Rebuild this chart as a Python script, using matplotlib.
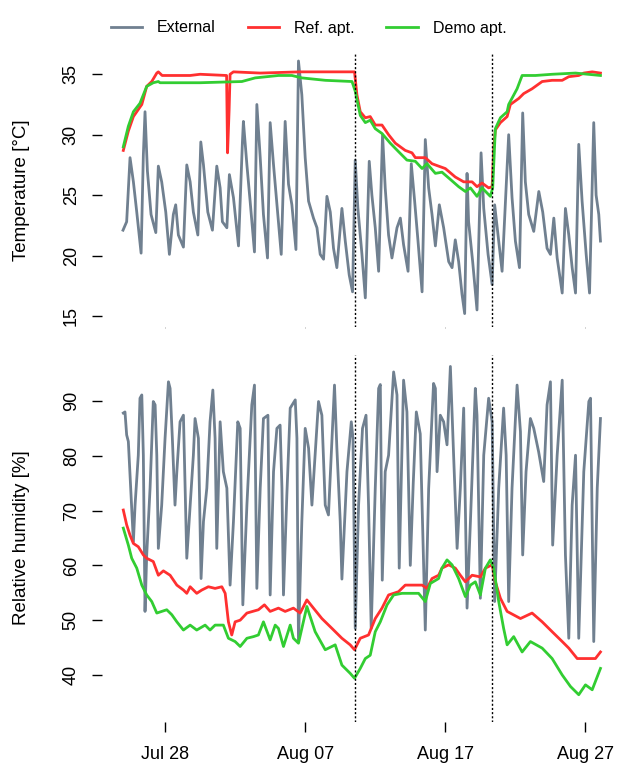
import numpy as np
import matplotlib
matplotlib.use("Agg")
import matplotlib.pyplot as plt
import matplotlib.dates as mdates

plt.rcParams["font.family"] = ["Liberation Sans", "DejaVu Sans"]

# time axis: days since 2013-07-25 00:00
START = np.datetime64("2013-07-25T00:00")

ext_temp_days = [0.0, 0.26, 0.5, 0.74, 0.98, 1.29, 1.45, 1.57, 1.74, 2.0, 2.34, 2.52, 2.76, 3.05, 3.31,
                 3.59, 3.76, 3.95, 4.31, 4.55, 4.79, 5.02, 5.34, 5.55, 5.74, 6.05, 6.38, 6.69, 6.93,
                 7.09, 7.41, 7.59, 7.88, 8.24, 8.52, 8.59, 8.84, 9.07, 9.38, 9.55, 9.79, 10.02, 10.31,
                 10.5, 10.74, 11.29, 11.57, 11.81, 12.05, 12.34, 12.52, 12.76, 13.0, 13.24, 13.59,
                 13.84, 14.07, 14.31, 14.55, 14.79, 15.02, 15.26, 15.62, 15.86, 16.14, 16.38, 16.57,
                 16.76, 17.05, 17.29, 17.57, 17.76, 18.0, 18.24, 18.52, 18.71, 18.95, 19.19, 19.55,
                 19.79, 20.02, 20.34, 20.57, 20.81, 21.05, 21.34, 21.57, 21.81, 22.05, 22.29, 22.57,
                 22.88, 23.24, 23.48, 23.71, 23.95, 24.19, 24.38, 24.55, 24.66, 24.95, 25.26, 25.55,
                 25.74, 26.05, 26.34, 26.52, 26.81, 27.05, 27.52, 27.76, 28.0, 28.29, 28.52, 28.71,
                 28.95, 29.31, 29.67, 29.95, 30.26, 30.5, 30.74, 30.98, 31.34, 31.57, 31.81, 32.05,
                 32.29, 32.52, 32.76, 33.05, 33.29, 33.59, 33.76, 33.95, 34.07]
ext_temp = [22.1, 22.8, 28.1, 26.1, 23.6, 20.2, 28.3, 31.9, 27.0, 23.4, 21.9, 27.4, 26.1, 23.6, 20.1,
            23.4, 24.2, 21.7, 20.7, 27.5, 26.1, 23.6, 21.7, 29.4, 27.5, 23.6, 22.1, 27.4, 25.6,
            22.8, 22.3, 26.7, 24.8, 20.8, 29.4, 31.1, 27.5, 24.5, 20.3, 32.5, 28.1, 23.4, 19.8,
            31.0, 27.5, 20.1, 31.1, 25.9, 24.2, 20.5, 36.1, 33.3, 28.1, 24.5, 23.1,
            22.3, 20.1, 19.7, 24.9, 23.6, 20.6, 19.0, 23.9, 21.2, 18.4, 17.0, 27.9,
            23.9, 20.1, 16.5, 27.8, 25.0, 22.3, 18.7, 30.0, 25.6, 21.7, 19.8, 22.3,
            23.1, 20.9, 18.7, 27.6, 24.5, 21.2, 17.0, 29.6, 25.6, 23.4, 20.8, 24.2,
            22.3, 19.5, 19.0, 21.3, 19.5, 16.8, 15.2, 26.8, 22.8, 19.5, 15.5, 28.5,
            23.9, 20.1, 17.6, 24.2, 21.2, 18.7, 30.0, 24.8, 21.2, 19.0, 31.8, 26.1,
            23.4, 22.0, 25.3, 23.6, 20.6, 20.1, 23.1, 19.8, 16.9, 23.9, 21.7, 19.0,
            16.9, 29.2, 24.5, 20.1, 16.9, 31.0, 25.0, 23.4, 21.2]

ref_temp_days = [0.02, 0.38, 0.74, 1.34, 1.69, 2.05, 2.41, 2.52, 2.79, 4.79, 5.5, 7.39, 7.46, 7.57,
                 7.64, 7.88, 9.79, 12.64, 16.52, 16.69, 16.93, 17.29, 17.64, 18.0, 18.48, 18.95,
                 19.43, 20.14, 20.62, 20.86, 21.57, 22.05, 22.52, 23.0, 23.71, 24.31, 24.91, 25.26,
                 25.62, 26.09, 26.34, 26.45, 26.57, 26.93, 27.41, 27.64, 28.24, 28.59, 29.19, 29.91,
                 30.62, 31.34, 31.81, 32.52, 32.88, 33.48, 34.07]
ref_temp = [28.7, 30.3, 31.5, 32.5, 34.0, 34.4, 35.1, 35.2, 34.9, 34.9, 35.0, 34.9, 28.5, 32.0,
            35.0, 35.2, 35.1, 35.2, 35.2, 33.3, 31.9, 31.4, 31.5, 30.8, 30.8, 30.0,
            29.3, 28.7, 28.5, 28.1, 28.1, 27.6, 27.4, 27.2, 26.5, 26.1, 26.1, 25.7,
            26.0, 25.6, 25.7, 28.9, 30.4, 31.0, 31.5, 32.5, 33.0, 33.4, 33.8, 34.4,
            34.5, 34.5, 34.8, 34.9, 35.1, 35.2, 35.1]

demo_temp_days = [0.02, 0.38, 0.74, 1.21, 1.69, 2.16, 2.52, 2.64, 5.5, 8.48, 9.43, 11.09, 12.05,
                  12.76, 14.43, 16.34, 16.57, 16.93, 17.29, 17.64, 18.0, 18.48, 19.07, 19.66,
                  20.26, 20.86, 21.34, 21.69, 22.29, 22.76, 23.36, 23.95, 24.43, 24.79, 25.26,
                  25.62, 26.21, 26.38, 26.57, 26.93, 27.41, 27.52, 28.12, 28.48, 29.43, 30.62,
                  32.29, 34.07]
demo_temp = [29.0, 30.7, 31.9, 32.6, 34.0, 34.3, 34.4, 34.3, 34.3, 34.4, 34.7, 34.9, 34.9,
             34.7, 34.5, 34.4, 33.6, 31.6, 31.0, 31.2, 30.5, 30.1, 29.3, 28.6,
             27.9, 27.8, 27.2, 27.6, 26.8, 26.9, 26.3, 25.7, 25.3, 25.6, 24.9,
             25.6, 24.9, 25.6, 30.5, 31.4, 31.9, 32.5, 33.8, 34.9, 34.9, 35.0,
             35.1, 34.9]

ext_hum_days = [0.02, 0.14, 0.26, 0.38, 0.57, 0.74, 0.86, 1.09, 1.21, 1.34, 1.45, 1.57, 1.69, 1.93,
                2.16, 2.29, 2.41, 2.52, 2.76, 3.0, 3.24, 3.36, 3.52, 3.71, 3.84, 4.07, 4.31, 4.43,
                4.55, 4.79, 5.02, 5.14, 5.38, 5.57, 5.74, 5.98, 6.21, 6.41, 6.57, 6.69, 6.93, 7.16,
                7.41, 7.64, 7.88, 8.19, 8.36, 8.55, 8.84, 9.19, 9.38, 9.55, 9.79, 10.02, 10.34,
                10.5, 10.74, 10.98, 11.21, 11.34, 11.45, 11.69, 11.93, 12.29, 12.41, 12.52, 12.76,
                13.0, 13.24, 13.48, 13.71, 13.95, 14.19, 14.43, 14.66, 14.91, 15.09, 15.26, 15.5,
                15.62, 15.98, 16.29, 16.41, 16.57, 16.81, 17.09, 17.34, 17.52, 17.71, 18.0, 18.24,
                18.36, 18.5, 18.71, 18.95, 19.31, 19.55, 19.71, 20.02, 20.26, 20.5, 20.71, 20.93,
                21.21, 21.57, 21.81, 22.16, 22.29, 22.41, 22.64, 22.88, 23.12, 23.36, 23.59, 23.84,
                24.07, 24.31, 24.55, 24.79, 25.14, 25.26, 25.5, 25.74, 26.09, 26.34, 26.52, 26.81,
                27.16, 27.34, 27.52, 27.76, 28.12, 28.36, 28.52, 28.76, 29.07, 29.31, 29.66, 30.02,
                30.26, 30.5, 30.66, 30.98, 31.34, 31.57, 31.81, 32.05, 32.29, 32.52, 32.88, 33.24,
                33.36, 33.59, 33.84, 34.07]
ext_hum = [87.8, 88.0, 83.8, 82.6, 72.8, 64.3, 71.0, 80.1, 90.5, 91.1, 80.1, 51.6, 61.9, 74.1,
           89.9, 89.3, 80.1, 63.1, 71.0, 83.2, 93.5, 92.3, 83.2, 71.0, 77.1, 86.2, 87.4, 74.1,
           61.3, 71.0, 80.1, 86.8, 83.2, 57.6, 68.0, 74.1, 86.2, 92.0, 83.2, 63.1, 86.2, 77.1,
           74.1, 56.4, 68.0, 86.2, 85.0, 52.8, 71.0, 89.3, 92.9, 55.8, 74.1, 86.8, 87.4,
           54.6, 77.1, 85.0, 85.6, 74.1, 54.6, 72.8, 88.7, 90.2, 83.2, 46.1, 68.0,
           85.0, 81.4, 71.0, 80.1, 89.9, 87.4, 71.0, 69.2, 83.2, 92.9, 81.4, 68.0,
           57.5, 77.1, 86.2, 83.2, 48.5, 71.0, 85.0, 87.4, 71.0, 48.5, 74.1, 92.3,
           93.0, 57.3, 77.1, 80.1, 95.3, 91.1, 59.5, 93.8, 88.0, 60.0, 75.0, 88.0,
           84.0, 48.2, 74.0, 93.2, 92.3, 77.1, 87.4, 86.2, 82.0, 96.3, 80.1, 63.1,
           74.1, 88.7, 52.2, 68.0, 92.3, 87.4, 54.0, 80.1, 90.5, 86.2, 53.4, 74.1,
           88.7, 80.1, 53.4, 74.1, 92.9, 84.4, 61.9, 77.1, 86.8, 85.0, 80.7, 75.3,
           89.3, 93.5, 63.7, 80.1, 93.8, 61.9, 46.7, 71.0, 80.1, 46.7, 77.1, 89.9,
           90.5, 46.1, 74.1, 86.8]

ref_hum_days = [0.02, 0.26, 0.5, 0.74, 1.09, 1.45, 1.69, 2.16, 2.52, 2.88, 3.36, 3.84, 4.31, 4.55,
                4.79, 5.26, 5.62, 6.09, 6.57, 7.05, 7.29, 7.52, 7.76, 8.0, 8.36, 8.84, 9.66, 10.09,
                10.5, 11.09, 11.57, 12.16, 12.64, 13.12, 13.59, 14.19, 14.91, 15.62, 16.21, 16.52,
                16.93, 17.52, 18.0, 18.48, 18.95, 19.66, 20.14, 21.34, 21.69, 22.05, 22.52, 22.76,
                23.24, 23.71, 24.07, 24.43, 24.91, 25.5, 25.86, 26.34, 26.57, 26.93, 27.41, 28.36,
                29.19, 29.91, 30.62, 31.34, 31.81, 32.41, 33.71, 34.07]
ref_hum = [70.1, 67.4, 65.5, 64.0, 63.4, 61.9, 61.3, 60.7, 58.2, 59.0, 58.2, 56.4, 55.5, 54.9,
           56.1, 54.9, 55.5, 56.1, 55.8, 56.1, 54.9, 49.7, 47.3, 49.7, 50.0, 51.3, 51.9, 52.8,
           51.6, 52.2, 51.6, 52.2, 51.3, 53.7, 52.2, 50.3, 48.5, 46.7, 45.5, 44.6,
           46.7, 47.3, 50.3, 52.2, 54.6, 55.2, 56.4, 56.4, 55.8, 57.6, 58.2, 59.5,
           60.1, 59.5, 58.2, 57.0, 58.2, 57.9, 59.5, 60.1, 57.0, 54.0, 51.6, 50.3,
           51.3, 49.7, 47.9, 46.1, 44.9, 43.0, 43.0, 44.2]

demo_hum_days = [0.02, 0.38, 0.62, 0.98, 1.34, 1.69, 2.05, 2.41, 3.12, 3.48, 3.84, 4.31, 4.79, 5.26,
                 5.86, 6.21, 6.57, 7.16, 7.52, 8.0, 8.36, 8.84, 9.31, 9.66, 10.02, 10.5, 10.86,
                 11.09, 11.45, 11.93, 12.16, 12.52, 13.12, 13.71, 14.43, 15.14, 15.62, 16.21, 16.52,
                 16.93, 17.29, 17.64, 18.0, 18.36, 18.84, 19.31, 19.91, 21.09, 21.57, 21.93, 22.52,
                 22.76, 23.12, 23.48, 23.95, 24.43, 24.79, 25.14, 25.5, 25.86, 26.21, 26.45, 26.81,
                 27.16, 27.41, 27.88, 28.48, 29.07, 29.91, 30.62, 31.34, 31.93, 32.52, 33.0, 33.48,
                 34.07]
demo_hum = [66.8, 63.7, 61.3, 59.5, 56.4, 54.6, 53.4, 51.3, 51.9, 51.0, 49.7, 48.2, 49.1, 48.2,
            49.1, 48.2, 49.1, 49.1, 46.7, 46.1, 45.2, 46.7, 47.0, 47.3, 49.7, 46.4, 49.1,
            48.5, 45.2, 49.1, 46.7, 45.8, 52.5, 47.9, 44.6, 45.5, 41.8, 40.3, 39.4,
            41.2, 43.0, 43.6, 47.9, 49.7, 52.8, 54.6, 54.9, 54.9, 53.4, 56.7, 57.6,
            59.5, 61.0, 60.1, 57.6, 54.3, 56.4, 57.0, 54.6, 59.5, 61.0, 59.5, 53.4,
            48.5, 45.5, 47.0, 44.2, 46.1, 44.9, 43.0, 40.0, 37.9, 36.4, 38.2, 37.3,
            41.2]

events = ["2013-08-10T13:40", "2013-08-20T08:40"]
x_ticks = ["2013-07-28", "2013-08-07", "2013-08-17", "2013-08-27"]
temp_ticks = [15, 20, 25, 30, 35]
hum_ticks = [40, 50, 60, 70, 80, 90]

C_EXT = "#708090"
C_REF = "#FF3030"
C_DEMO = "#32CD32"


def to_time(days):
    return START + (np.asarray(days) * 24 * 60).round().astype("timedelta64[m]")


W, H = 617, 767
fig = plt.figure(figsize=(W / 100, H / 100), dpi=100)

ax1 = fig.add_axes([102 / W, 1 - 327 / H, 515 / W, 274 / H])
ax2 = fig.add_axes([102 / W, 1 - 722 / H, 515 / W, 367 / H])

lw = 2.0
ax1.plot(to_time(ext_temp_days), ext_temp, color=C_EXT, lw=lw, label="External")
ax1.plot(to_time(ref_temp_days), ref_temp, color=C_REF, lw=lw, label="Ref. apt.")
ax1.plot(to_time(demo_temp_days), demo_temp, color=C_DEMO, lw=lw, label="Demo apt.")

ax2.plot(to_time(ext_hum_days), ext_hum, color=C_EXT, lw=lw)
ax2.plot(to_time(ref_hum_days), ref_hum, color=C_REF, lw=lw)
ax2.plot(to_time(demo_hum_days), demo_hum, color=C_DEMO, lw=lw)

xmin = START - np.timedelta64(36, "h")
xmax = START + np.timedelta64(int(35.29 * 24), "h")

for ax in (ax1, ax2):
    for ev in events:
        ax.axvline(np.datetime64(ev), color="black", lw=1.0, ls=(0, (1.5, 1.5)))
    for s in ax.spines.values():
        s.set_visible(False)
    ax.set_xlim(xmin, xmax)
    ax.set_xticks([np.datetime64(d) for d in x_ticks])
    ax.xaxis.set_major_formatter(mdates.DateFormatter("%b %d"))
    ax.tick_params(axis="y", length=7, width=1, pad=9, labelsize=13, labelrotation=90)
    for lab in ax.get_yticklabels():
        lab.set_va("center")

ax1.set_ylim(14.09, 36.76)
ax1.set_yticks(temp_ticks)
ax1.tick_params(axis="x", length=1, width=0.6, color="#999999", labelbottom=False)

ax2.set_ylim(31.42, 98.39)
ax2.set_yticks(hum_ticks)
ax2.tick_params(axis="x", length=7, width=1, pad=10, labelsize=13)

fig.text(22 / W, 1 - 190 / H, "Temperature [°C]", rotation=90, ha="center", va="center", fontsize=13.5)
fig.text(22 / W, 1 - 538 / H, "Relative humidity [%]", rotation=90, ha="center", va="center", fontsize=13.5)

fig.legend(loc="center", bbox_to_anchor=(0.5, 1 - 28 / H), ncol=3, frameon=False,
           fontsize=11.5, handlelength=2.0, handletextpad=0.9, columnspacing=2.0)

fig.savefig("out.png", dpi=100)
